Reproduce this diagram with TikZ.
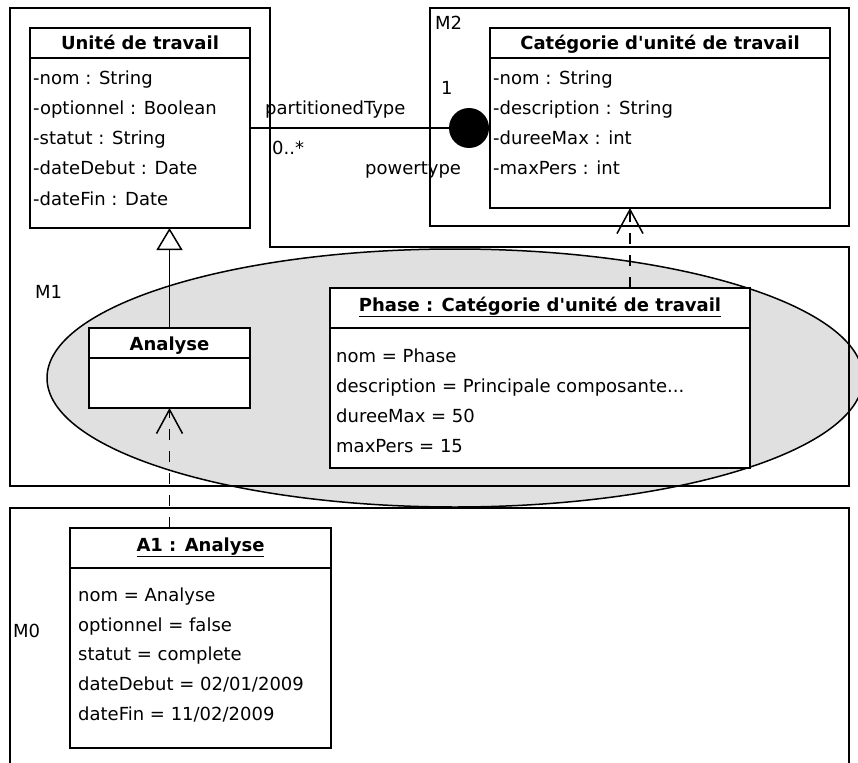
\documentclass[tikz,border=0pt]{standalone}
\usepackage{fontspec}
\setmainfont{DejaVu Sans}
\usepackage{xcolor}
\usetikzlibrary{arrows.meta,positioning,shapes.geometric}
\definecolor{fondgris}{RGB}{224,224,224}

\begin{document}
\begin{tikzpicture}[x=1pt,y=-1pt,
            every node/.style={font=\fontsize{18}{20}\selectfont},
            cadre/.style={draw,line width=1.5pt},
            entete/.style={draw,fill=white,line width=1.5pt,outer sep=0pt,inner sep=0pt,
                anchor=north west,text height=14pt,text depth=0pt,
                font=\fontsize{18}{20}\selectfont\bfseries},
            objet/.style={entete,text depth=8pt},
            corps/.style={draw,fill=white,line width=1.5pt,outer sep=0pt,inner sep=0pt},
            attr/.style={anchor=base west,inner sep=0pt},
            boule/.style={circle,fill=black,inner sep=0pt,minimum size=40pt},
            lien/.style={line width=1.5pt},
            herit/.style={line width=1.5pt,-{Triangle[length=22pt,width=26pt,fill=white,line width=1.5pt]}},
            depend/.style={line width=1.5pt,dash pattern=on 11pt off 11pt,
                -{Straight Barb[length=24pt,width=26pt,line width=1.5pt]}}]
            \useasboundingbox (0,0) rectangle (858,762);
            \node[ellipse,draw,fill=fondgris,line width=1.5pt,inner sep=0pt,
                minimum width=816pt,minimum height=258pt] (meta) at (455,378) {};
            \draw[cadre] (10,8) -- (270,8) -- (270,247) -- (849,247) -- (849,486) -- (10,486) -- cycle;
            \draw[cadre] (430,8) rectangle (849,226);
            \draw[cadre] (10,775) -- (10,508) -- (849,508) -- (849,775);
            \node[attr] (m2) at (435,30) {M2};
            \node[attr] (m1) at (35,298) {M1};
            \node[attr] (m0) at (13,637) {M0};
            \node[entete,minimum width=220pt,minimum height=30pt] (unite) at (30,28) {Unité de travail};
            \node[corps,minimum width=220pt,minimum height=170pt,below=0pt of unite] (uniteCorps) {};
            \foreach \Attr [count=\i] in {-nom : String,-optionnel : Boolean,-statut : String,-dateDebut : Date,-dateFin : Date}
            \node[attr] (unite-\i) at (33,55+30*\i) {\Attr};
            \node[entete,minimum width=340pt,minimum height=30pt] (categorie) at (490,28) {Catégorie d\textquotesingle unité de travail};
            \node[corps,minimum width=340pt,minimum height=150pt,below=0pt of categorie] (categorieCorps) {};
            \foreach \Attr [count=\i] in {-nom : String,-description : String,-dureeMax : int,-maxPers : int}
            \node[attr] (categorie-\i) at (493,55+30*\i) {\Attr};
            \node[entete,minimum width=161pt,minimum height=30pt] (analyse) at (89,328) {Analyse};
            \node[corps,minimum width=161pt,minimum height=50pt,below=0pt of analyse] (analyseCorps) {};
            \node[objet,minimum width=420pt,minimum height=40pt] (phase) at (330,288) {\underline{Phase : Catégorie d\textquotesingle unité de travail}};
            \node[corps,minimum width=420pt,minimum height=140pt,below=0pt of phase] (phaseCorps) {};
            \foreach \Attr [count=\i] in {nom = Phase,description = Principale composante.{}.{}.,dureeMax = 50,maxPers = 15}
            \node[attr] (phase-\i) at (336,332+30*\i) {\Attr};
            \node[objet,minimum width=261pt,minimum height=40pt] (a1) at (70,528) {\underline{A1 : Analyse}};
            \node[corps,minimum width=261pt,minimum height=180pt,below=0pt of a1] (a1Corps) {};
            \foreach \Attr [count=\i] in {nom = Analyse,optionnel = false,statut = complete,dateDebut = 02/01/2009,dateFin = 11/02/2009}
            \node[attr] (a1-\i) at (78,572+29.6*\i) {\Attr};
            \node[boule] (ball) at (469,128) {};
            \draw[lien] (ball -| uniteCorps.east) -- (ball);
            \node[attr] (partitioned) at (265,115) {partitionedType};
            \node[attr] (multi) at (272,155) {0..*};
            \node[attr] (un) at (441,95) {1};
            \node[attr] (powertype) at (365,175) {powertype};
            \draw[herit] (analyse.north) -- (analyse.north |- uniteCorps.south);
            \draw[depend] (analyseCorps.south |- a1.north) -- (analyseCorps.south);
            \draw[depend] ([xshift=90pt]phase.north) -- ([xshift=90pt]phase.north |- categorieCorps.south);
        \end{tikzpicture}
\end{document}
